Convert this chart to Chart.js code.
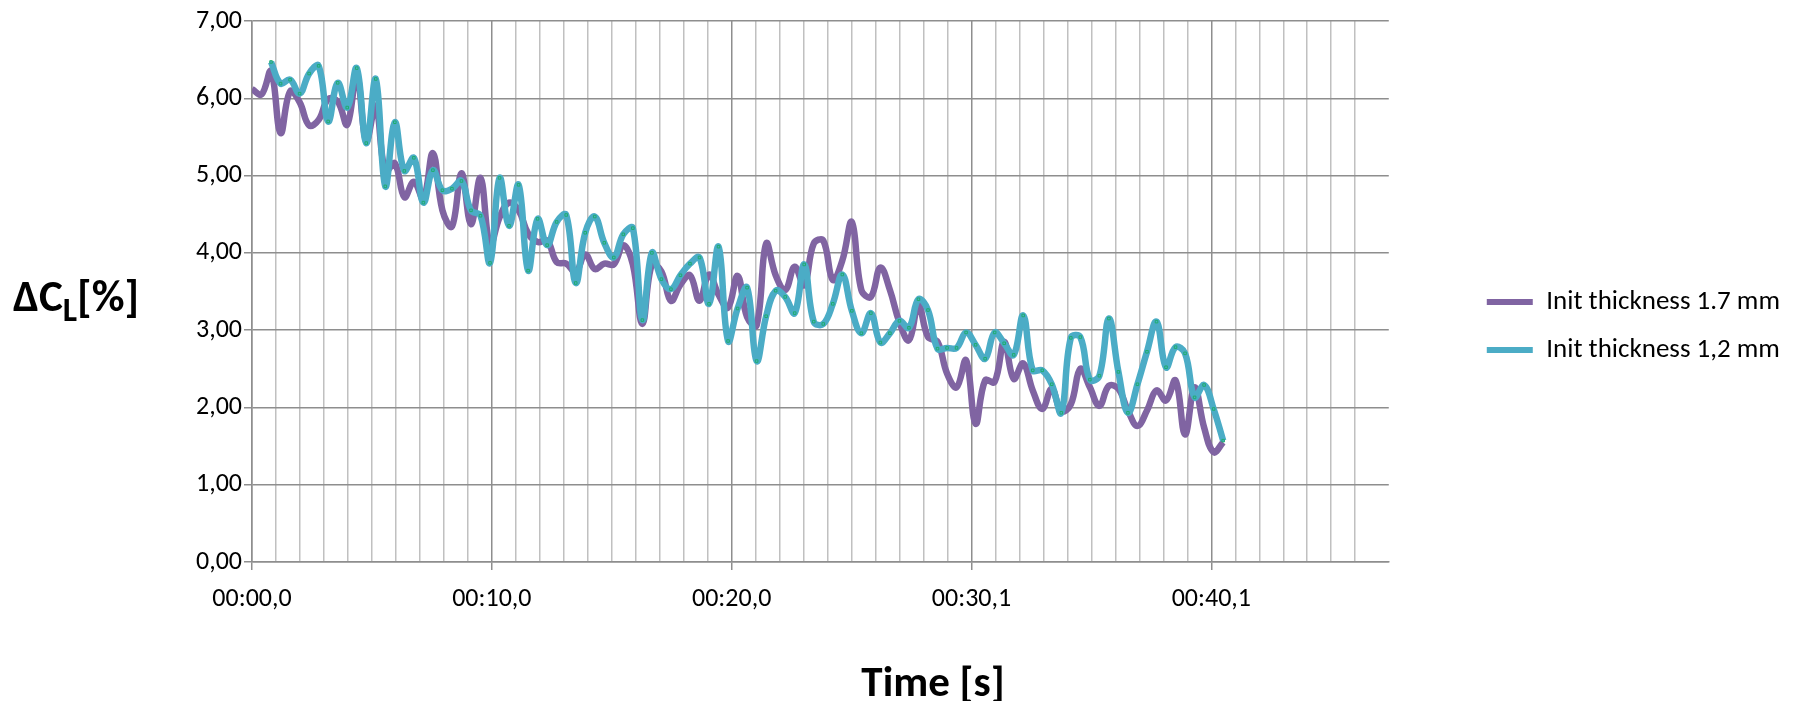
<!DOCTYPE html>
<html>
<head>
<meta charset="utf-8">
<script src="https://cdn.jsdelivr.net/npm/chart.js@4.4.1/dist/chart.umd.min.js"></script>
<style>
    body { margin: 0; background: #ffffff; }
    #wrap { position: relative; width: 1796px; height: 701px; font-family: Carlito, Calibri, Lato, sans-serif; }
    .axis-title { position: absolute; font-weight: bold; color: #000; white-space: nowrap; line-height: 1; }
    #yTitle { left: 13px; top: 300px; font-size: 45px; transform: translateY(-50%); }
    #yTitle sub { font-size: 0.75em; vertical-align: -0.28em; }
    #xTitle { left: 933px; top: 681px; font-size: 43px; transform: translate(-50%, -50%); }
</style>
</head>
<body>
<div id="wrap">
    <canvas id="chart" width="1796" height="701"></canvas>
    <div id="yTitle" class="axis-title">ΔC<sub>L</sub>[%]</div>
    <div id="xTitle" class="axis-title">Time [s]</div>
</div>
<script>
// Time labels shown under the major gridlines (one every 100 rows)
const timeLabels = ['00:00,0', '00:10,0', '00:20,0', '00:30,1', '00:40,1'];

// Samples are taken roughly every 4 rows of the sheet
const rowStep = 3.97;

// Init thickness 1.7 mm
const thick17 = [
    6.12, 6.05, 6.35, 5.55, 6.09, 5.95, 5.65, 5.72, 5.99, 5.96,
    5.66, 6.30, 5.45, 5.90, 5.05, 5.16, 4.72, 4.92, 4.70, 5.29,
    4.55, 4.34, 5.03, 4.37, 4.97, 4.10, 4.46, 4.65, 4.55, 4.25,
    4.14, 4.16, 3.88, 3.86, 3.75, 3.98, 3.79, 3.86, 3.85, 4.10,
    3.85, 3.08, 3.85, 3.76, 3.38, 3.59, 3.71, 3.38, 3.72, 3.46,
    3.29, 3.70, 3.17, 3.06, 4.12, 3.71, 3.52, 3.82, 3.58, 4.12,
    4.16, 3.65, 3.90, 4.40, 3.52, 3.43, 3.81, 3.52, 3.10, 2.87,
    3.32, 2.91, 2.85, 2.44, 2.26, 2.61, 1.79, 2.35, 2.33, 2.85,
    2.37, 2.57, 2.22, 1.98, 2.24, 1.95, 2.04, 2.50, 2.26, 2.02,
    2.28, 2.24, 1.96, 1.76, 1.96, 2.22, 2.09, 2.35, 1.65, 2.26,
    1.74, 1.42, 1.55
];

// Init thickness 1,2 mm (starts two samples later)
const thick12 = [
    null, null, 6.47, 6.19, 6.24, 6.06, 6.32, 6.42, 5.70, 6.20,
    5.88, 6.39, 5.42, 6.25, 4.86, 5.69, 5.06, 5.23, 4.65, 5.07,
    4.81, 4.83, 4.93, 4.55, 4.48, 3.87, 4.97, 4.35, 4.88, 3.77,
    4.44, 4.10, 4.40, 4.49, 3.61, 4.26, 4.47, 4.13, 3.94, 4.24,
    4.32, 3.13, 4.00, 3.66, 3.53, 3.71, 3.86, 3.94, 3.34, 4.08,
    2.86, 3.28, 3.55, 2.60, 3.18, 3.51, 3.43, 3.22, 3.85, 3.11,
    3.08, 3.34, 3.72, 3.25, 2.96, 3.22, 2.84, 2.96, 3.12, 3.03,
    3.40, 3.26, 2.76, 2.77, 2.77, 2.97, 2.81, 2.63, 2.97, 2.83,
    2.68, 3.19, 2.48, 2.48, 2.30, 1.93, 2.90, 2.91, 2.36, 2.41,
    3.15, 2.46, 1.93, 2.30, 2.72, 3.11, 2.52, 2.78, 2.70, 2.13,
    2.29, 1.98, 1.57
];

const seriesNames = ['Init thickness 1.7 mm', 'Init thickness 1,2 mm'];

const FONT = 'Carlito, Calibri, Lato, sans-serif';
const MAJOR_GRID = '#8e8e8e';
const MINOR_GRID = '#c0c0c0';
const LINE_W = 6.5;

// pair each value with its sheet row
function toPoints(values) {
    return values.map((v, k) => ({ x: k * rowStep, y: v }));
}

// legend: a thick flat bar in the series colour, datasets in their own order
function legendLabels(chart) {
    const items = Chart.defaults.plugins.legend.labels.generateLabels(chart);
    items.forEach(item => {
        const ds = chart.data.datasets[item.datasetIndex];
        item.fillStyle = ds.borderColor;
        item.strokeStyle = ds.borderColor;
        item.lineWidth = 0;
    });
    return items.sort((a, b) => a.datasetIndex - b.datasetIndex);
}

const ctx = document.getElementById('chart').getContext('2d');
new Chart(ctx, {
    type: 'line',
    data: {
        datasets: [
            {
                label: seriesNames[0],
                data: toPoints(thick17),
                borderColor: '#8064a2',
                backgroundColor: '#8064a2',
                borderWidth: LINE_W,
                pointRadius: 0,
                tension: 0.4,
                order: 2
            },
            {
                label: seriesNames[1],
                data: toPoints(thick12),
                borderColor: '#4bacc6',
                backgroundColor: '#4bacc6',
                borderWidth: LINE_W,
                pointStyle: 'rect',
                pointRadius: 1.8,
                pointBorderWidth: 1,
                pointBorderColor: '#1fae6e',
                pointBackgroundColor: '#4bacc6',
                tension: 0.4,
                order: 1
            }
        ]
    },
    options: {
        responsive: false,
        animation: false,
        devicePixelRatio: 1,
        layout: { padding: { top: 21, bottom: 70, left: 0, right: 6 } },
        plugins: {
            tooltip: { enabled: false },
            legend: {
                position: 'right',
                maxWidth: 400,
                labels: {
                    generateLabels: legendLabels,
                    boxWidth: 46,
                    boxHeight: 6,
                    padding: 21,
                    color: '#000',
                    font: { family: FONT, size: 27 }
                }
            }
        },
        scales: {
            x: {
                type: 'linear',
                min: 0,
                max: 474,
                afterBuildTicks: (scale) => {
                    // drop the extra tick Chart.js adds at max
                    scale.ticks = scale.ticks.filter(t => t.value % 10 === 0);
                },
                afterFit: (scale) => { scale.height = 69; },
                ticks: {
                    stepSize: 10,
                    autoSkip: false,
                    maxRotation: 0,
                    padding: 14,
                    color: '#000',
                    font: { family: FONT, size: 26 },
                    callback: (value) => value % 100 === 0 ? timeLabels[value / 100] : ''
                },
                grid: {
                    lineWidth: 1.5,
                    tickLength: 8,
                    color: (c) => c.tick && c.tick.value % 100 === 0 ? MAJOR_GRID : MINOR_GRID,
                    tickColor: (c) => c.tick && c.tick.value % 100 === 0 ? MAJOR_GRID : 'rgba(0,0,0,0)'
                },
                border: { color: MAJOR_GRID, width: 1.5 }
            },
            y: {
                min: 0,
                max: 7,
                afterFit: (scale) => { scale.width = 252; },
                ticks: {
                    stepSize: 1,
                    padding: 2,
                    color: '#000',
                    font: { family: FONT, size: 26 },
                    callback: (value) => value.toFixed(2).replace('.', ',')
                },
                grid: { color: MAJOR_GRID, lineWidth: 1.5, tickLength: 8 },
                border: { color: MAJOR_GRID, width: 1.5 }
            },
            // empty spacer between the plot and the legend
            gap: {
                type: 'linear',
                position: 'right',
                afterFit: (scale) => { scale.width = 77; },
                ticks: { display: false },
                grid: { display: false },
                border: { display: false }
            }
        }
    }
});
</script>
</body>
</html>
